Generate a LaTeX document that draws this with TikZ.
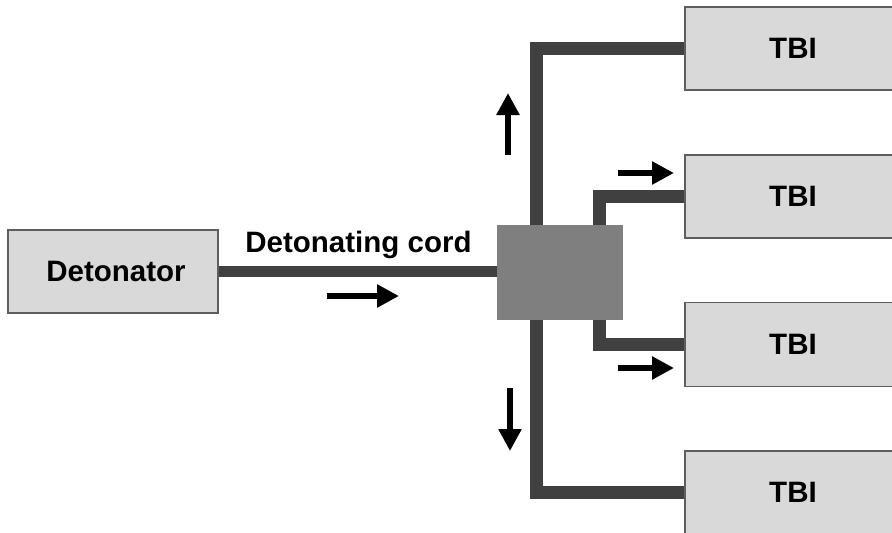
\documentclass[tikz,border=0pt]{standalone}
\usepackage{fontspec}
\setmainfont{Liberation Sans}
\usetikzlibrary{arrows.meta}
\definecolor{boxfill}{HTML}{D9D9D9}
\definecolor{boxline}{HTML}{5E5E5E}
\definecolor{cordcol}{HTML}{404040}
\definecolor{juncfill}{HTML}{7F7F7F}
\tikzset{
  unitbox/.style={draw=boxline, line width=1.5pt, fill=boxfill, inner sep=0pt,
    font=\fontsize{29.5}{33}\selectfont\bfseries},
  cordline/.style={draw=cordcol, line width=12.5pt, line join=miter, line cap=butt},
  maincord/.style={draw=cordcol, line width=10.5pt, line cap=butt},
  flowarrow/.style={draw=black, line width=6pt, -{Triangle[width=22pt,length=22pt]}},
  lbl/.style={font=\fontsize{29.5}{33}\selectfont\bfseries, inner sep=0pt}
}
\begin{document}
\begin{tikzpicture}[x=1pt,y=-1pt]
\useasboundingbox (0,0) rectangle (892,533);
\clip (0,0) rectangle (892,533);
% nodes
\node[unitbox, minimum width=210pt, minimum height=83pt] (det) at (113,271.5) {\hspace{6pt}Detonator};
\node[unitbox, minimum width=216pt, minimum height=83pt] (tbi1) at (793,48.5) {TBI};
\node[unitbox, minimum width=216pt, minimum height=83pt] (tbi2) at (793,196.5) {TBI};
\node[unitbox, minimum width=216pt, minimum height=84pt] (tbi3) at (793,344.5) {TBI};
\node[unitbox, minimum width=216pt, minimum height=83pt] (tbi4) at (793,492.5) {TBI};
\node[fill=juncfill, minimum width=126pt, minimum height=95pt, inner sep=0pt] (junc) at (560,272.5) {};
% cords
\draw[maincord] (det.east) -- (det.east -| junc.west);
\draw[cordline] ([xshift=-23.5pt]junc.north) |- (tbi1.west);
\draw[cordline] ([xshift=39.5pt]junc.north) |- (tbi2.west);
\draw[cordline] ([xshift=39.5pt]junc.south) |- (tbi3.west);
\draw[cordline] ([xshift=-23.5pt]junc.south) |- (tbi4.west);
\node[fill=juncfill, minimum width=126pt, minimum height=95pt, inner sep=0pt] at (junc) {};
% label
\node[lbl, anchor=base] (cordlbl) at (358.5,252) {Detonating cord};
% arrows
\coordinate (a1s) at (327,296); \coordinate (a1e) at (399,296);
\draw[flowarrow] (a1s) -- (a1e);
\coordinate (a2s) at (508,155); \coordinate (a2e) at (508,93);
\draw[flowarrow] (a2s) -- (a2e);
\coordinate (a3s) at (618,173); \coordinate (a3e) at (674,173);
\draw[flowarrow] (a3s) -- (a3e);
\coordinate (a4s) at (618,368); \coordinate (a4e) at (674,368);
\draw[flowarrow] (a4s) -- (a4e);
\coordinate (a5s) at (510,388); \coordinate (a5e) at (510,451);
\draw[flowarrow] (a5s) -- (a5e);
\end{tikzpicture}
\end{document}
